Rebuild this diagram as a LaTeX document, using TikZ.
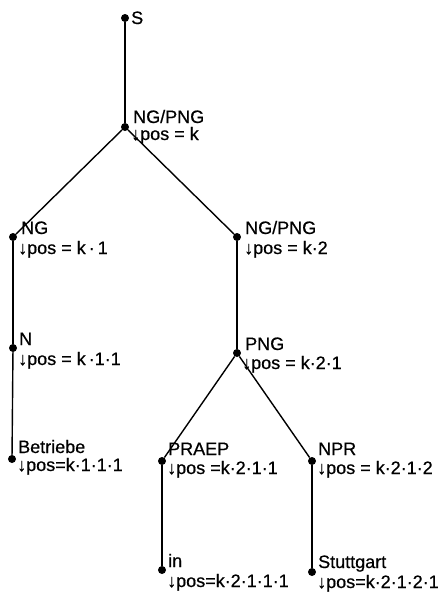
\documentclass[tikz,border=0pt]{standalone}
\usepackage{fontspec}
\setmainfont{Liberation Sans}[BoldFont={Liberation Sans},BoldFeatures={FakeBold=0.6}]
\begin{document}
\begin{tikzpicture}[x=1pt,y=-1pt,
  dot/.style={circle,fill=black,inner sep=0pt,minimum size=8pt},
  edge/.style={line width=1.4pt},
  cat/.style={anchor=base west,inner sep=0pt,font=\fontsize{18}{20}\selectfont\bfseries},
  posl/.style={anchor=base west,inner sep=0pt,font=\fontsize{18}{20}\selectfont\bfseries}]
\useasboundingbox (0,0) rectangle (446,595);
\node[dot] (s) at (125,18) {};
\node[dot] (a) at (125,127) {};
\node[dot] (b) at (13,237) {};
\node[dot] (c) at (237,237) {};
\node[dot] (d) at (13,348) {};
\node[dot] (e) at (237,353) {};
\node[dot] (f) at (12,459) {};
\node[dot] (g) at (162,461) {};
\node[dot] (h) at (312,461) {};
\node[dot] (i) at (162,570) {};
\node[dot] (j) at (312,572) {};
\draw[edge] (s) -- (a);
\draw[edge] (a) -- (b);
\draw[edge] (a) -- (c);
\draw[edge] (b) -- (d);
\draw[edge] (d) -- (f);
\draw[edge] (c) -- (e);
\draw[edge] (e) -- (g);
\draw[edge] (e) -- (h);
\draw[edge] (g) -- (i);
\draw[edge] (h) -- (j);
\node[cat] (sl) at ([xshift=6pt,yshift=-6pt]s.center) {S};
\node[cat] (al) at ([xshift=8pt,yshift=4pt]a.center) {NG/PNG};
\node[posl] (ap) at ([xshift=6pt,yshift=-13pt]a.center) {↓pos = k};
\node[cat] (bl) at ([xshift=8pt,yshift=3pt]b.center) {NG};
\node[posl] (bp) at ([xshift=5pt,yshift=-17pt]b.center) {↓pos = k\,·\,1};
\node[cat] (cl) at ([xshift=8pt,yshift=3pt]c.center) {NG/PNG};
\node[posl] (cp) at ([xshift=7pt,yshift=-17pt]c.center) {↓pos = k·2};
\node[cat] (dl) at ([xshift=6pt,yshift=3pt]d.center) {N};
\node[posl] (dp) at ([xshift=5pt,yshift=-17pt]d.center) {↓pos = k\,·1·1};
\node[cat] (el) at ([xshift=8pt,yshift=3pt]e.center) {PNG};
\node[posl] (ep) at ([xshift=5pt,yshift=-16pt]e.center) {↓pos = k·2·1};
\node[cat] (fl) at ([xshift=6pt,yshift=6pt]f.center) {Betriebe};
\node[posl] (fp) at ([xshift=5pt,yshift=-12pt]f.center) {↓pos=k·1·1·1};
\node[cat] (gl) at ([xshift=6pt,yshift=6pt]g.center) {PRAEP};
\node[posl] (gp) at ([xshift=5pt,yshift=-13pt]g.center) {↓pos =k·2·1·1};
\node[cat] (hl) at ([xshift=6pt,yshift=6pt]h.center) {NPR};
\node[posl] (hp) at ([xshift=5pt,yshift=-13pt]h.center) {↓pos = k·2·1·2};
\node[cat] (il) at ([xshift=6pt,yshift=3pt]i.center) {in};
\node[posl] (ip) at ([xshift=5pt,yshift=-17pt]i.center) {↓pos=k·2·1·1·1};
\node[cat] (jl) at ([xshift=6pt,yshift=4pt]j.center) {Stuttgart};
\node[posl] (jp) at ([xshift=5pt,yshift=-16pt]j.center) {↓pos=k·2·1·2·1};
\end{tikzpicture}
\end{document}
